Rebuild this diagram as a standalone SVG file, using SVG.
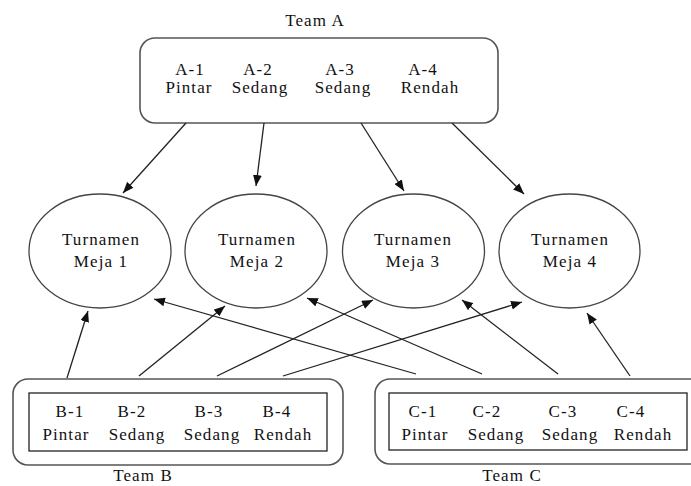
<svg xmlns="http://www.w3.org/2000/svg" width="691" height="486" viewBox="0 0 691 486">
<defs>
<marker id="ah" viewBox="0 0 10 8" refX="10" refY="4" markerWidth="11" markerHeight="9" markerUnits="userSpaceOnUse" orient="auto">
<path d="M0,0 L10,4 L0,8 z" fill="#111"/>
</marker>
<style>
text{font-family:"Liberation Serif","Times New Roman",serif;font-size:17px;fill:#111;text-anchor:middle;letter-spacing:1.1px}
.box{fill:#fff;stroke:#555;stroke-width:1.6}
.inner{fill:none;stroke:#222;stroke-width:1.3}
.ell{fill:#fff;stroke:#444;stroke-width:1.3}
.c{stroke:#222;stroke-width:1.3;fill:none;marker-end:url(#ah)}
</style>
</defs>
<rect width="691" height="486" fill="#fff"/>
<g id="teamA">
<text x="315" y="26">Team A</text>
<rect class="box" x="140" y="38" width="358" height="85" rx="15"/>
<text x="190" y="75">A-1</text><text x="189" y="93">Pintar</text>
<text x="258" y="75">A-2</text><text x="260" y="93">Sedang</text>
<text x="340" y="75">A-3</text><text x="343" y="93">Sedang</text>
<text x="423" y="75">A-4</text><text x="430" y="93">Rendah</text>
</g>
<g id="meja1"><ellipse class="ell" cx="100" cy="251" rx="71" ry="57"/><text x="101" y="245">Turnamen</text><text x="101" y="267">Meja 1</text></g>
<g id="meja2"><ellipse class="ell" cx="256" cy="251" rx="71" ry="57"/><text x="257" y="245">Turnamen</text><text x="257" y="267">Meja 2</text></g>
<g id="meja3"><ellipse class="ell" cx="413.5" cy="251" rx="71" ry="57"/><text x="413" y="245">Turnamen</text><text x="413" y="267">Meja 3</text></g>
<g id="meja4"><ellipse class="ell" cx="569.5" cy="251" rx="70.5" ry="57"/><text x="570" y="245">Turnamen</text><text x="570" y="267">Meja 4</text></g>
<g id="teamB">
<rect class="box" x="13" y="379" width="330" height="86" rx="15"/>
<rect class="inner" x="29" y="393" width="298" height="58"/>
<text x="70" y="417">B-1</text><text x="66" y="440">Pintar</text>
<text x="132" y="417">B-2</text><text x="137" y="440">Sedang</text>
<text x="209" y="417">B-3</text><text x="212" y="440">Sedang</text>
<text x="277" y="417">B-4</text><text x="283" y="440">Rendah</text>
<text x="143" y="481">Team B</text>
</g>
<g id="teamC">
<rect class="box" x="375" y="379" width="330" height="85" rx="15"/>
<rect class="inner" x="389" y="393" width="298" height="57"/>
<text x="423" y="417">C-1</text><text x="425" y="440">Pintar</text>
<text x="487" y="417">C-2</text><text x="496" y="440">Sedang</text>
<text x="563" y="417">C-3</text><text x="570" y="440">Sedang</text>
<text x="631" y="417">C-4</text><text x="643" y="440">Rendah</text>
<text x="512" y="481">Team C</text>
</g>
<g id="connectors">
<line class="c" x1="186" y1="123" x2="123" y2="193"/>
<line class="c" x1="264" y1="123" x2="256" y2="186"/>
<line class="c" x1="361" y1="123" x2="404" y2="191"/>
<line class="c" x1="452" y1="123" x2="524" y2="194"/>
<line class="c" x1="67" y1="378" x2="88" y2="311"/>
<line class="c" x1="139" y1="376" x2="225" y2="306"/>
<line class="c" x1="217" y1="376" x2="373" y2="300"/>
<line class="c" x1="283" y1="376" x2="522" y2="302"/>
<line class="c" x1="416" y1="374" x2="154" y2="299"/>
<line class="c" x1="482" y1="374" x2="307" y2="298"/>
<line class="c" x1="558" y1="374" x2="462" y2="300"/>
<line class="c" x1="630" y1="376" x2="587" y2="313"/>
</g>
</svg>
